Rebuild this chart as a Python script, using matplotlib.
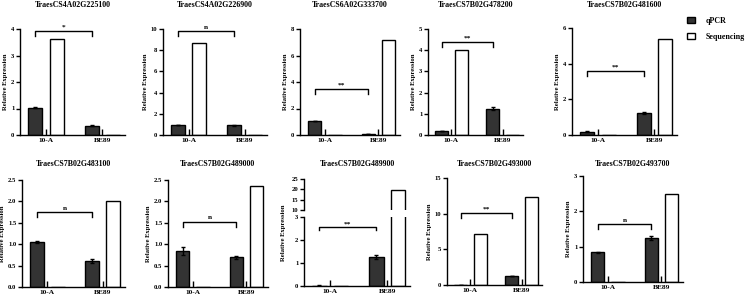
"""Relative expression of 10 genes: qPCR vs sequencing."""
import matplotlib
matplotlib.use("Agg")
import matplotlib.pyplot as plt
from matplotlib.patches import Patch

plt.rcParams["font.family"] = ["Liberation Serif", "DejaVu Serif"]
plt.rcParams["font.weight"] = "bold"

genes = [
    "TraesCS4A02G225100", "TraesCS4A02G226900", "TraesCS6A02G333700",
    "TraesCS7B02G478200", "TraesCS7B02G481600", "TraesCS7B02G483100",
    "TraesCS7B02G489000", "TraesCS7B02G489900", "TraesCS7B02G493000",
    "TraesCS7B02G493700",
]
groups = ["10-A", "BE89"]
qpcr_10a = [1.03, 0.94, 1.06, 0.19, 0.18, 1.05, 0.84, 0.02, 0.03, 0.84]
qpcr_10a_err = [0.02, 0.03, 0.03, 0.02, 0.02, 0.02, 0.10, 0.01, 0.01, 0.02]
qpcr_be89 = [0.35, 0.90, 0.05, 1.25, 1.24, 0.61, 0.69, 1.25, 1.26, 1.25]
qpcr_be89_err = [0.02, 0.03, 0.01, 0.07, 0.04, 0.05, 0.04, 0.08, 0.05, 0.05]
seq_10a = [3.62, 8.65, 0, 4.02, 0, 0, 0, 0, 7.2, 0]
seq_be89 = [0, 0, 7.17, 0, 5.37, 2.01, 2.35, 19.8, 12.4, 2.5]
y_max = [4, 10, 8, 5, 6, 2.5, 2.5, 3, 15, 3]
y_step = [1, 2, 2, 1, 2, 0.5, 0.5, 1, 5, 1]
sig_text = ["*", "n", "**", "**", "**", "n", "n", "**", "**", "n"]
sig_height = [3.92, 9.8, 3.5, 4.4, 3.6, 1.75, 1.53, 2.57, 10.1, 1.64]
# upper segment of the broken axis in panel 8
broken_upper = (10, 25)
broken_upper_ticks = [10, 15, 20, 25]

W, H = 750, 295
# axes boxes in pixels: left, right, top, bottom
boxes = [
    (20, 125, 29, 135), (163, 267, 29, 135), (300, 400, 29, 135),
    (428, 523, 29, 135), (572, 677, 28, 135),
    (22, 125, 180, 287), (168, 268, 180, 287), (304, 410, 179, 286),
    (447, 542, 178, 285), (583, 683, 176, 282),
]

COL_QPCR = "#333333"
LW = 1.0
OFF = 0.19
BAR_W = 0.25
FS = 4.8


def px_rect(left, right, top, bottom):
    return [left / W, 1 - bottom / H, (right - left) / W, (bottom - top) / H]


def style_axes(ax):
    for side in ("top", "right"):
        ax.spines[side].set_visible(False)
    for side in ("left", "bottom"):
        ax.spines[side].set_linewidth(LW)
    ax.tick_params(axis="y", direction="out", length=3, width=LW, labelsize=FS, pad=1)
    ax.tick_params(axis="x", direction="in", length=4, width=LW, labelsize=FS + 0.5, pad=2)
    ax.set_xlim(-0.46, 1.4)


def draw_bars(ax, i):
    x = [0, 1]
    ax.bar([v - OFF for v in x], [qpcr_10a[i], qpcr_be89[i]], BAR_W,
           yerr=[qpcr_10a_err[i], qpcr_be89_err[i]], color=COL_QPCR,
           edgecolor="black", linewidth=LW, capsize=1.5,
           error_kw={"elinewidth": LW, "capthick": LW}, zorder=2)
    ax.bar([v + OFF for v in x], [seq_10a[i], seq_be89[i]], BAR_W,
           color="white", edgecolor="black", linewidth=LW, zorder=2)


def draw_bracket(ax, i, top):
    h = sig_height[i]
    d = 0.05 * top
    ax.plot([-OFF, -OFF, 1 - OFF, 1 - OFF], [h - d, h, h, h - d],
            color="black", linewidth=LW, clip_on=False)
    ax.text(0.5 - OFF, h + 0.01 * top, sig_text[i], ha="center", va="bottom",
            fontsize=FS + 0.5, fontweight="bold")


fig = plt.figure(figsize=(W / 100, H / 100), dpi=100)

for i, gene in enumerate(genes):
    left, right, top, bottom = boxes[i]
    if i == 7:
        # broken y axis: lower 0-3, upper 10-25
        ax = fig.add_axes(px_rect(left, right, 217, bottom))
        ax_up = fig.add_axes(px_rect(left, right, top, 210))
        draw_bars(ax, i)
        draw_bars(ax_up, i)
        style_axes(ax_up)
        ax_up.spines["bottom"].set_visible(False)
        ax_up.set_ylim(*broken_upper)
        ax_up.set_yticks(broken_upper_ticks)
        ax_up.set_xticks([])
        ax.set_ylabel("Relative Expression", fontsize=FS, fontweight="bold", labelpad=2)
        ax.yaxis.set_label_coords(-0.17, (bottom - (top + bottom) / 2) / (bottom - 217))
    else:
        ax = fig.add_axes(px_rect(left, right, top, bottom))
        draw_bars(ax, i)
        ax.set_ylabel("Relative Expression", fontsize=FS, fontweight="bold", labelpad=2)
    style_axes(ax)
    ax.set_ylim(0, y_max[i])
    n_ticks = int(round(y_max[i] / y_step[i]))
    ticks = [k * y_step[i] for k in range(n_ticks + 1)]
    ax.set_yticks(ticks)
    if y_step[i] < 1:
        ax.set_yticklabels([f"{t:.1f}" for t in ticks])
    ax.set_xticks([0, 1])
    ax.set_xticklabels(groups)
    draw_bracket(ax, i, y_max[i])
    title_y = 5 if i < 5 else 164
    fig.text((left + right) / 2 / W, 1 - title_y / H, gene, ha="center", va="center",
             fontsize=5.7, fontweight="bold")

handles = [
    Patch(facecolor=COL_QPCR, edgecolor="black", linewidth=LW, label="qPCR"),
    Patch(facecolor="white", edgecolor="black", linewidth=LW, label="Sequencing"),
]
fig.legend(handles=handles, loc="upper left", bbox_to_anchor=(687 / W, 1 - 17 / H),
           frameon=False, fontsize=5.8, handlelength=1.0, handleheight=0.7,
           handletextpad=1.3, labelspacing=1.0, borderaxespad=0, borderpad=0)

fig.savefig("out.png", dpi=100)
